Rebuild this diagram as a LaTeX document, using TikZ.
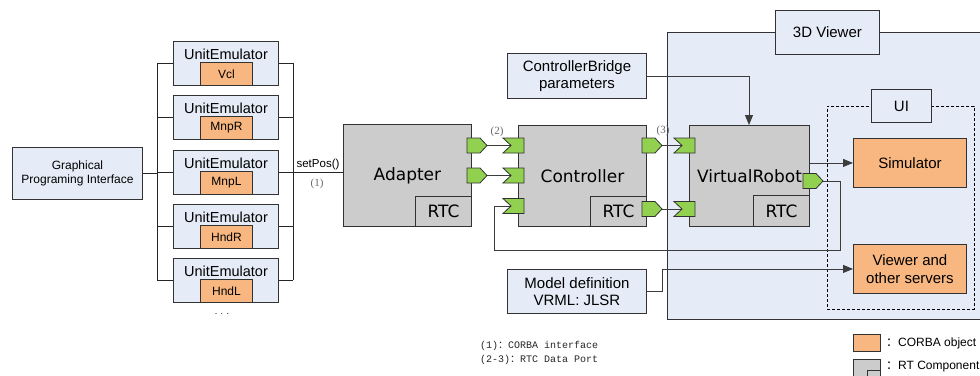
\documentclass[tikz,border=0pt]{standalone}
\usepackage{fontspec}
\setmainfont{Liberation Sans}
\newfontfamily\dejavu{DejaVu Sans}
\newfontfamily\serifnum{Liberation Serif}
\newfontfamily\monofnt{Liberation Mono}
\newfontfamily\cjk{Noto Sans CJK SC}
\usetikzlibrary{arrows.meta,calc}

\definecolor{paleblue}{RGB}{230,236,247}
\definecolor{corba}{RGB}{248,183,128}
\definecolor{rtcgray}{RGB}{204,204,204}
\definecolor{portgreen}{RGB}{146,208,80}
\definecolor{edgecol}{RGB}{50,50,50}
\definecolor{wirecol}{RGB}{60,60,60}
\definecolor{notegray}{RGB}{105,105,105}

% data ports: output (pentagon) and input (notched)
\newcommand\outport[3]{%
  \draw[portst] (#2,#3-7.5) -- ++(13,0) -- ++(7,7.5) -- ++(-7,7.5) -- ++(-13,0) -- cycle;
  \coordinate (#1) at (#2+20,#3);}
\newcommand\inport[3]{%
  \draw[portst] (#2,#3-7.5) -- ++(21,0) -- ++(0,15) -- ++(-21,0) -- ++(8,-7.5) -- cycle;
  \coordinate (#1) at (#2+8,#3);}

\begin{document}
\begin{tikzpicture}[x=1pt,y=-1pt,
  box/.style={draw=edgecol, line width=0.9pt, inner sep=0pt, align=center},
  infobox/.style={box, fill=paleblue, font=\fontsize{15}{17}\selectfont},
  gpibox/.style={box, fill=paleblue, font=\fontsize{12}{14.5}\selectfont},
  uebox/.style={box, fill=paleblue, minimum width=105, minimum height=44},
  uetitle/.style={inner sep=0pt, font=\fontsize{14.5}{16}\selectfont},
  unitbox/.style={box, fill=corba, minimum width=52, minimum height=23, font=\fontsize{12}{14}\selectfont},
  corbabox/.style={box, fill=corba, font=\fontsize{15}{17.5}\selectfont},
  rtcbox/.style={box, fill=rtcgray, font=\dejavu\fontsize{17}{20}\selectfont},
  rtcsub/.style={box, fill=rtcgray, minimum width=56, minimum height=30, font=\dejavu\fontsize{17}{20}\selectfont},
  region/.style={draw=edgecol, line width=0.9pt, fill=paleblue, inner sep=0pt},
  portst/.style={draw=edgecol, line width=0.8pt, fill=portgreen, line join=miter},
  wire/.style={draw=wirecol, line width=0.9pt},
  arrowwire/.style={wire, -{Triangle[length=10pt,width=8pt]}},
  note/.style={inner sep=0pt, text=notegray, font=\serifnum\fontsize{11}{13}\selectfont},
  plain/.style={inner sep=0pt, font=\fontsize{11.5}{13}\selectfont},
  footnote/.style={inner sep=0pt, anchor=west, text=black!85, font=\monofnt\fontsize{10}{12}\selectfont},
]
\useasboundingbox (0,0) rectangle (980,375);

% ---- 3D viewer area and the UI group inside it
\node[region, minimum width=330, minimum height=287, anchor=north west] (viewerarea) at (667,32) {};
\node[infobox, minimum width=104, minimum height=44, anchor=north west] (viewerlabel) at (775,10) {3D Viewer};
\node[draw=black, line width=0.8pt, dash pattern=on 3pt off 2pt, minimum width=147, minimum height=203, anchor=north west, inner sep=0pt] (uiarea) at (827,106) {};
\node[infobox, minimum width=60, minimum height=33, anchor=north west] (uilabel) at (871,89) {UI};
\node[corbabox, minimum width=113, minimum height=49, anchor=north west] (sim) at (853,138) {Simulator};
\node[corbabox, minimum width=113, minimum height=49, anchor=north west] (viewsrv) at (853,244) {Viewer and\\other servers};

% ---- graphical interface and unit emulators
\node[gpibox, minimum width=130, minimum height=52, anchor=north west] (gpi) at (12,147) {Graphical\\Programing Interface};

\foreach \i/\top/\unit in {1/41/Vcl, 2/95/MnpR, 3/150/MnpL, 4/204/HndR, 5/258/HndL}{
  \node[uebox, anchor=north west] (ue\i) at (173,\top) {};
  \node[uetitle] (uet\i) at ($(ue\i.north)+(0,13)$) {UnitEmulator};
  \node[unitbox, anchor=south] (unit\i) at ($(ue\i.south)+(0.5,0)$) {\unit};
}
\node[inner sep=0pt, font=\fontsize{9}{10}\selectfont] (moreunits) at (222,314) {. . .};

% buses on both sides of the emulators
\coordinate (lbtop) at (157,0 |- ue1.west);
\coordinate (lbbot) at (157,0 |- ue5.west);
\coordinate (rbtop) at (293,0 |- ue1.east);
\coordinate (rbbot) at (293,0 |- ue5.east);
\draw[wire, draw=black!85] (lbtop) -- (lbbot);
\draw[wire, draw=black!85] (rbtop) -- (rbbot);
\foreach \i in {1,...,5}{
  \draw[wire, draw=black!85] (lbtop |- ue\i.west) -- (ue\i.west);
  \draw[wire, draw=black!85] (ue\i.east) -- (rbtop |- ue\i.east);
}
\draw[wire, draw=black!85] (gpi.east) -- (lbtop |- gpi.east);

% ---- RT components
\node[rtcbox, minimum width=128, minimum height=102, anchor=north west] (adapter) at (343,124) {Adapter};
\node[rtcsub, anchor=south east] (adapterrtc) at (adapter.south east) {RTC};
\node[rtcbox, minimum width=128, minimum height=101, anchor=north west] (controller) at (518,125) {Controller};
\node[rtcsub, anchor=south east] (controllerrtc) at (controller.south east) {RTC};
\node[rtcbox, minimum width=120, minimum height=101, anchor=north west] (vrobot) at (689,125) {VirtualRobot};
\node[rtcsub, minimum height=31, anchor=south east] (vrobotrtc) at (vrobot.south east) {RTC};

% CORBA call into the adapter
\coordinate (setposin) at (adapter.west |- ue3.east);
\draw[wire, draw=black!85] (rbtop |- ue3.east) -- (setposin);
\node[plain] (setposlbl) at (318,165) {setPos()};
\node[note] (corbanum) at (317,184) {(1)};

% ---- parameter and model sources
\node[infobox, minimum width=139, minimum height=45, anchor=north west] (cbparams) at (507,53) {ControllerBridge\\parameters};
\node[infobox, minimum width=139, minimum height=44, anchor=north west] (modeldef) at (507,269) {Model definition\\VRML: JLSR};

% ---- wires
\coordinate (cbturn) at (749,0 |- cbparams.east);
\draw[arrowwire] (cbparams.east) -- (cbturn) -- (cbturn |- vrobot.north);

\coordinate (mdturn) at (662,0 |- modeldef.east);
\draw[arrowwire] (modeldef.east) -- (mdturn) -- (mdturn |- viewsrv.west) -- (viewsrv.west);

\coordinate (vrsim) at (vrobot.east |- sim.west);
\draw[arrowwire] (vrsim) -- (sim.west);

% data ports (positions of port tips / notches)
\coordinate (aout1) at (487,145.5);
\coordinate (aout2) at (487,175.5);
\coordinate (cin1) at (511,145.5);
\coordinate (cin2) at (511,175.5);
\coordinate (cin3) at (511,206);
\coordinate (cout1) at (662,145.5);
\coordinate (cout2) at (662,209);
\coordinate (vin1) at (682,145.5);
\coordinate (vin2) at (682,209);
\coordinate (vout) at (823,181);

\draw[wire] (aout1) -- (cin1);
\draw[wire] (aout2) -- (cin2);
\draw[wire] (cout1) -- (vin1);
\draw[wire] (cout2) -- (vin2);
\draw[wire] (vout) -- (840,181) -- (840,250) -- (494,250) -- (494,0 |- cin3) -- (cin3);

\outport{aout1p}{467}{145.5}
\outport{aout2p}{467}{175.5}
\inport{cin1p}{503}{145.5}
\inport{cin2p}{503}{175.5}
\inport{cin3p}{503}{206}
\outport{cout1p}{642}{145.5}
\outport{cout2p}{642}{209}
\inport{vin1p}{674}{145.5}
\inport{vin2p}{674}{209}
\outport{voutp}{803}{181}

\node[note] (portnum2) at (497,132) {(2)};
\node[note] (portnum3) at (663,131) {(3)};

% ---- notes
\node[footnote] (note1) at (480,346) {(1){\cjk ：}CORBA interface};
\node[footnote] (note2) at (480,360) {(2-3){\cjk ：}RTC Data Port};

% ---- legend
\node[box, fill=corba, minimum width=27, minimum height=17, anchor=north west] (legcorba) at (853,334) {};
\node[inner sep=0pt, anchor=west, font=\fontsize{12}{14}\selectfont] (legcorbatxt) at (886,343) {{\cjk ：}CORBA object};
\node[box, fill=rtcgray, minimum width=27, minimum height=22, anchor=north west] (legrtc) at (853,359) {};
\node[box, fill=rtcgray, minimum width=13, minimum height=11, anchor=north west] (legrtcsub) at (867,370) {};
\node[inner sep=0pt, anchor=west, font=\fontsize{12}{14}\selectfont] (legrtctxt) at (886,367) {{\cjk ：}RT Component};

\end{tikzpicture}
\end{document}
